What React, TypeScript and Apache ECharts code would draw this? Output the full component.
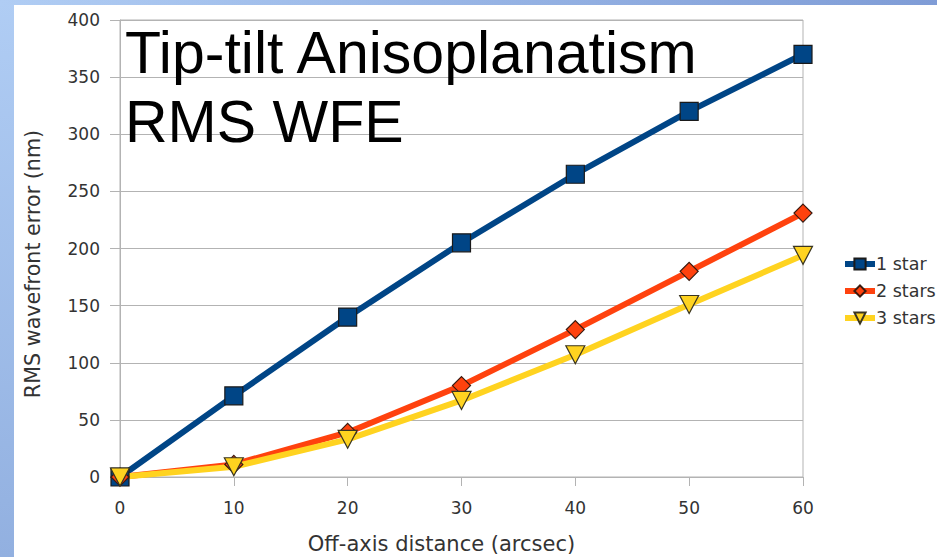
import React, { useEffect, useRef } from "react";
import * as echarts from "echarts";

const xValues = [0, 10, 20, 30, 40, 50, 60];
const oneStar = [0, 71, 140, 205, 265, 320, 370];
const twoStars = [0, 11, 39, 80, 129, 180, 231];
const threeStars = [0, 9, 33, 67, 107, 151, 194];
const seriesNames = ["1 star", "2 stars", "3 stars"];
const titleText = "Tip-tilt Anisoplanatism\nRMS WFE";
const xName = "Off-axis distance (arcsec)";
const yName = "RMS wavefront error (nm)";

const pair = (ys: number[]) => xValues.map((x, i) => [x, ys[i]]);

export default function App() {
  const ref = useRef<HTMLDivElement>(null);
  useEffect(() => {
    if (!ref.current) return;
    const chart = echarts.init(ref.current, null, { renderer: "svg" });
    const font = "DejaVu Sans";
    const txt = "#333333";
    chart.setOption({
      animation: false,
      backgroundColor: "#ffffff",
      grid: {
        left: 120,
        right: 134,
        top: 20,
        bottom: 80,
        show: true,
        borderColor: "#b3b3b3",
        borderWidth: 1,
        backgroundColor: "transparent",
      },
      xAxis: {
        type: "value",
        min: 0,
        max: 60,
        interval: 10,
        axisLine: { show: true, lineStyle: { color: "#b3b3b3", width: 1 } },
        axisTick: { show: true, length: 9, lineStyle: { color: "#b3b3b3" } },
        splitLine: { show: false },
        axisLabel: { color: txt, fontFamily: font, fontSize: 17, margin: 22 },
      },
      yAxis: {
        type: "value",
        min: 0,
        max: 400,
        interval: 50,
        axisLine: { show: true, lineStyle: { color: "#b3b3b3", width: 1 } },
        axisTick: { show: true, length: 10, lineStyle: { color: "#b3b3b3" } },
        splitLine: { show: true, lineStyle: { color: "#b3b3b3", width: 1 } },
        axisLabel: { color: txt, fontFamily: font, fontSize: 17, margin: 20 },
      },
      legend: {
        orient: "vertical",
        left: 837,
        top: 250,
        itemWidth: 30,
        itemHeight: 14,
        itemGap: 9,
        lineStyle: { width: 6 },
        textStyle: { color: txt, fontFamily: font, fontSize: 17.5, padding: [0, 0, 0, -4] },
        data: seriesNames,
      },
      series: [
        {
          name: seriesNames[0],
          type: "line",
          data: pair(oneStar),
          symbol: "rect",
          symbolSize: 18,
          lineStyle: { color: "#004586", width: 6 },
          itemStyle: { color: "#004586", borderColor: "#1a1a1a", borderWidth: 1.2 },
        },
        {
          name: seriesNames[1],
          type: "line",
          data: pair(twoStars),
          symbol: "diamond",
          symbolSize: 18,
          lineStyle: { color: "#ff420e", width: 6 },
          itemStyle: { color: "#ff420e", borderColor: "#3a1a10", borderWidth: 1.2 },
        },
        {
          name: seriesNames[2],
          type: "line",
          data: pair(threeStars),
          symbol: "triangle",
          symbolRotate: 180,
          symbolSize: [19, 18],
          lineStyle: { color: "#ffd320", width: 6 },
          itemStyle: { color: "#ffd320", borderColor: "#3a3520", borderWidth: 1.2 },
        },
      ],
      graphic: [
        {
          type: "rect",
          silent: true,
          z: -10,
          shape: { x: 0, y: 0, width: 14, height: 557 },
          style: {
            fill: new echarts.graphic.LinearGradient(0, 0, 0, 1, [
              { offset: 0, color: "#b0cdf4" },
              { offset: 1, color: "#92b0e0" },
            ]),
          },
        },
        {
          type: "rect",
          silent: true,
          z: -10,
          shape: { x: 0, y: 0, width: 937, height: 5 },
          style: {
            fill: new echarts.graphic.LinearGradient(0, 0, 1, 0, [
              { offset: 0, color: "#b0cdf4" },
              { offset: 1, color: "#7f9cd6" },
            ]),
          },
        },
        {
          type: "text",
          x: 125,
          y: 18,
          z: 100,
          style: {
            text: titleText,
            fill: "#000000",
            fontFamily: "Liberation Sans",
            fontSize: 59,
            lineHeight: 69,
            align: "left",
            verticalAlign: "top",
          },
        },
        {
          type: "text",
          x: 441.5,
          y: 544,
          style: {
            text: xName,
            fill: txt,
            fontFamily: font,
            fontSize: 21,
            align: "center",
            verticalAlign: "middle",
          },
        },
        {
          type: "text",
          x: 33,
          y: 264,
          rotation: Math.PI / 2,
          style: {
            text: yName,
            fill: txt,
            fontFamily: font,
            fontSize: 20.7,
            align: "center",
            verticalAlign: "middle",
          },
        },
      ],
    });
    return () => chart.dispose();
  }, []);
  return (
    <div
      ref={ref}
      style={{ position: "fixed", left: 0, top: 0, width: 937, height: 557 }}
    />
  );
}
